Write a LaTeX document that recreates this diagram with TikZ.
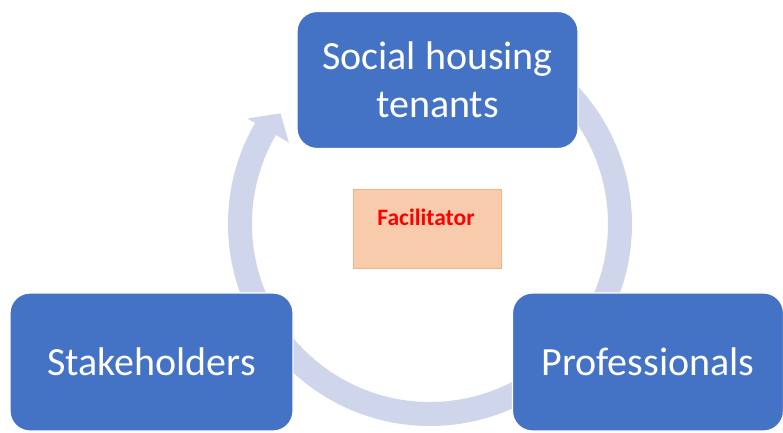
\documentclass[tikz,border=0pt]{standalone}
\usepackage{fontspec}
\setmainfont{Carlito}
\definecolor{boxblue}{HTML}{4472C4}
\definecolor{cyclefill}{HTML}{CFD5EA}
\definecolor{facfill}{HTML}{F8CBAD}
\definecolor{facline}{HTML}{F4B183}
\begin{document}
\begin{tikzpicture}[x=1pt,y=1pt,
  rolebox/.style={rectangle, rounded corners=20pt, fill=boxblue, draw=white,
    line width=1.2pt, text=white, align=center, inner sep=0pt,
    font=\fontsize{40}{48}\selectfont},
  facbox/.style={rectangle, fill=facfill, draw=facline, line width=1.5pt,
    minimum width=148pt, minimum height=79pt, inner sep=0pt},
  faclabel/.style={text=red, inner sep=0pt, font=\bfseries\fontsize{23.5}{28}\selectfont}]
\useasboundingbox (0,0) rectangle (783,432);

% circular arrow behind the three role boxes
\begin{scope}[shift={(430,208)}]
  \fill[cyclefill] (50:202) arc[start angle=50, end angle=-210, radius=202]
    -- (150:211) -- (143.5:186) -- (150:163) -- (150:178)
    arc[start angle=-210, end angle=50, radius=178] -- cycle;
\end{scope}

% roles
\node[rolebox, minimum width=281pt, minimum height=137pt] (tenants) at (437.5,352) {Social housing\\tenants};
\node[rolebox, minimum width=283pt, minimum height=138pt] (stake) at (151.5,70) {Stakeholders};
\node[rolebox, minimum width=271pt, minimum height=138pt] (prof) at (648,70) {Professionals};

% facilitator in the middle
\node[facbox] (fac) at (427.5,203) {};
\node[faclabel] (faclbl) at (426,215) {Facilitator};
\end{tikzpicture}
\end{document}
